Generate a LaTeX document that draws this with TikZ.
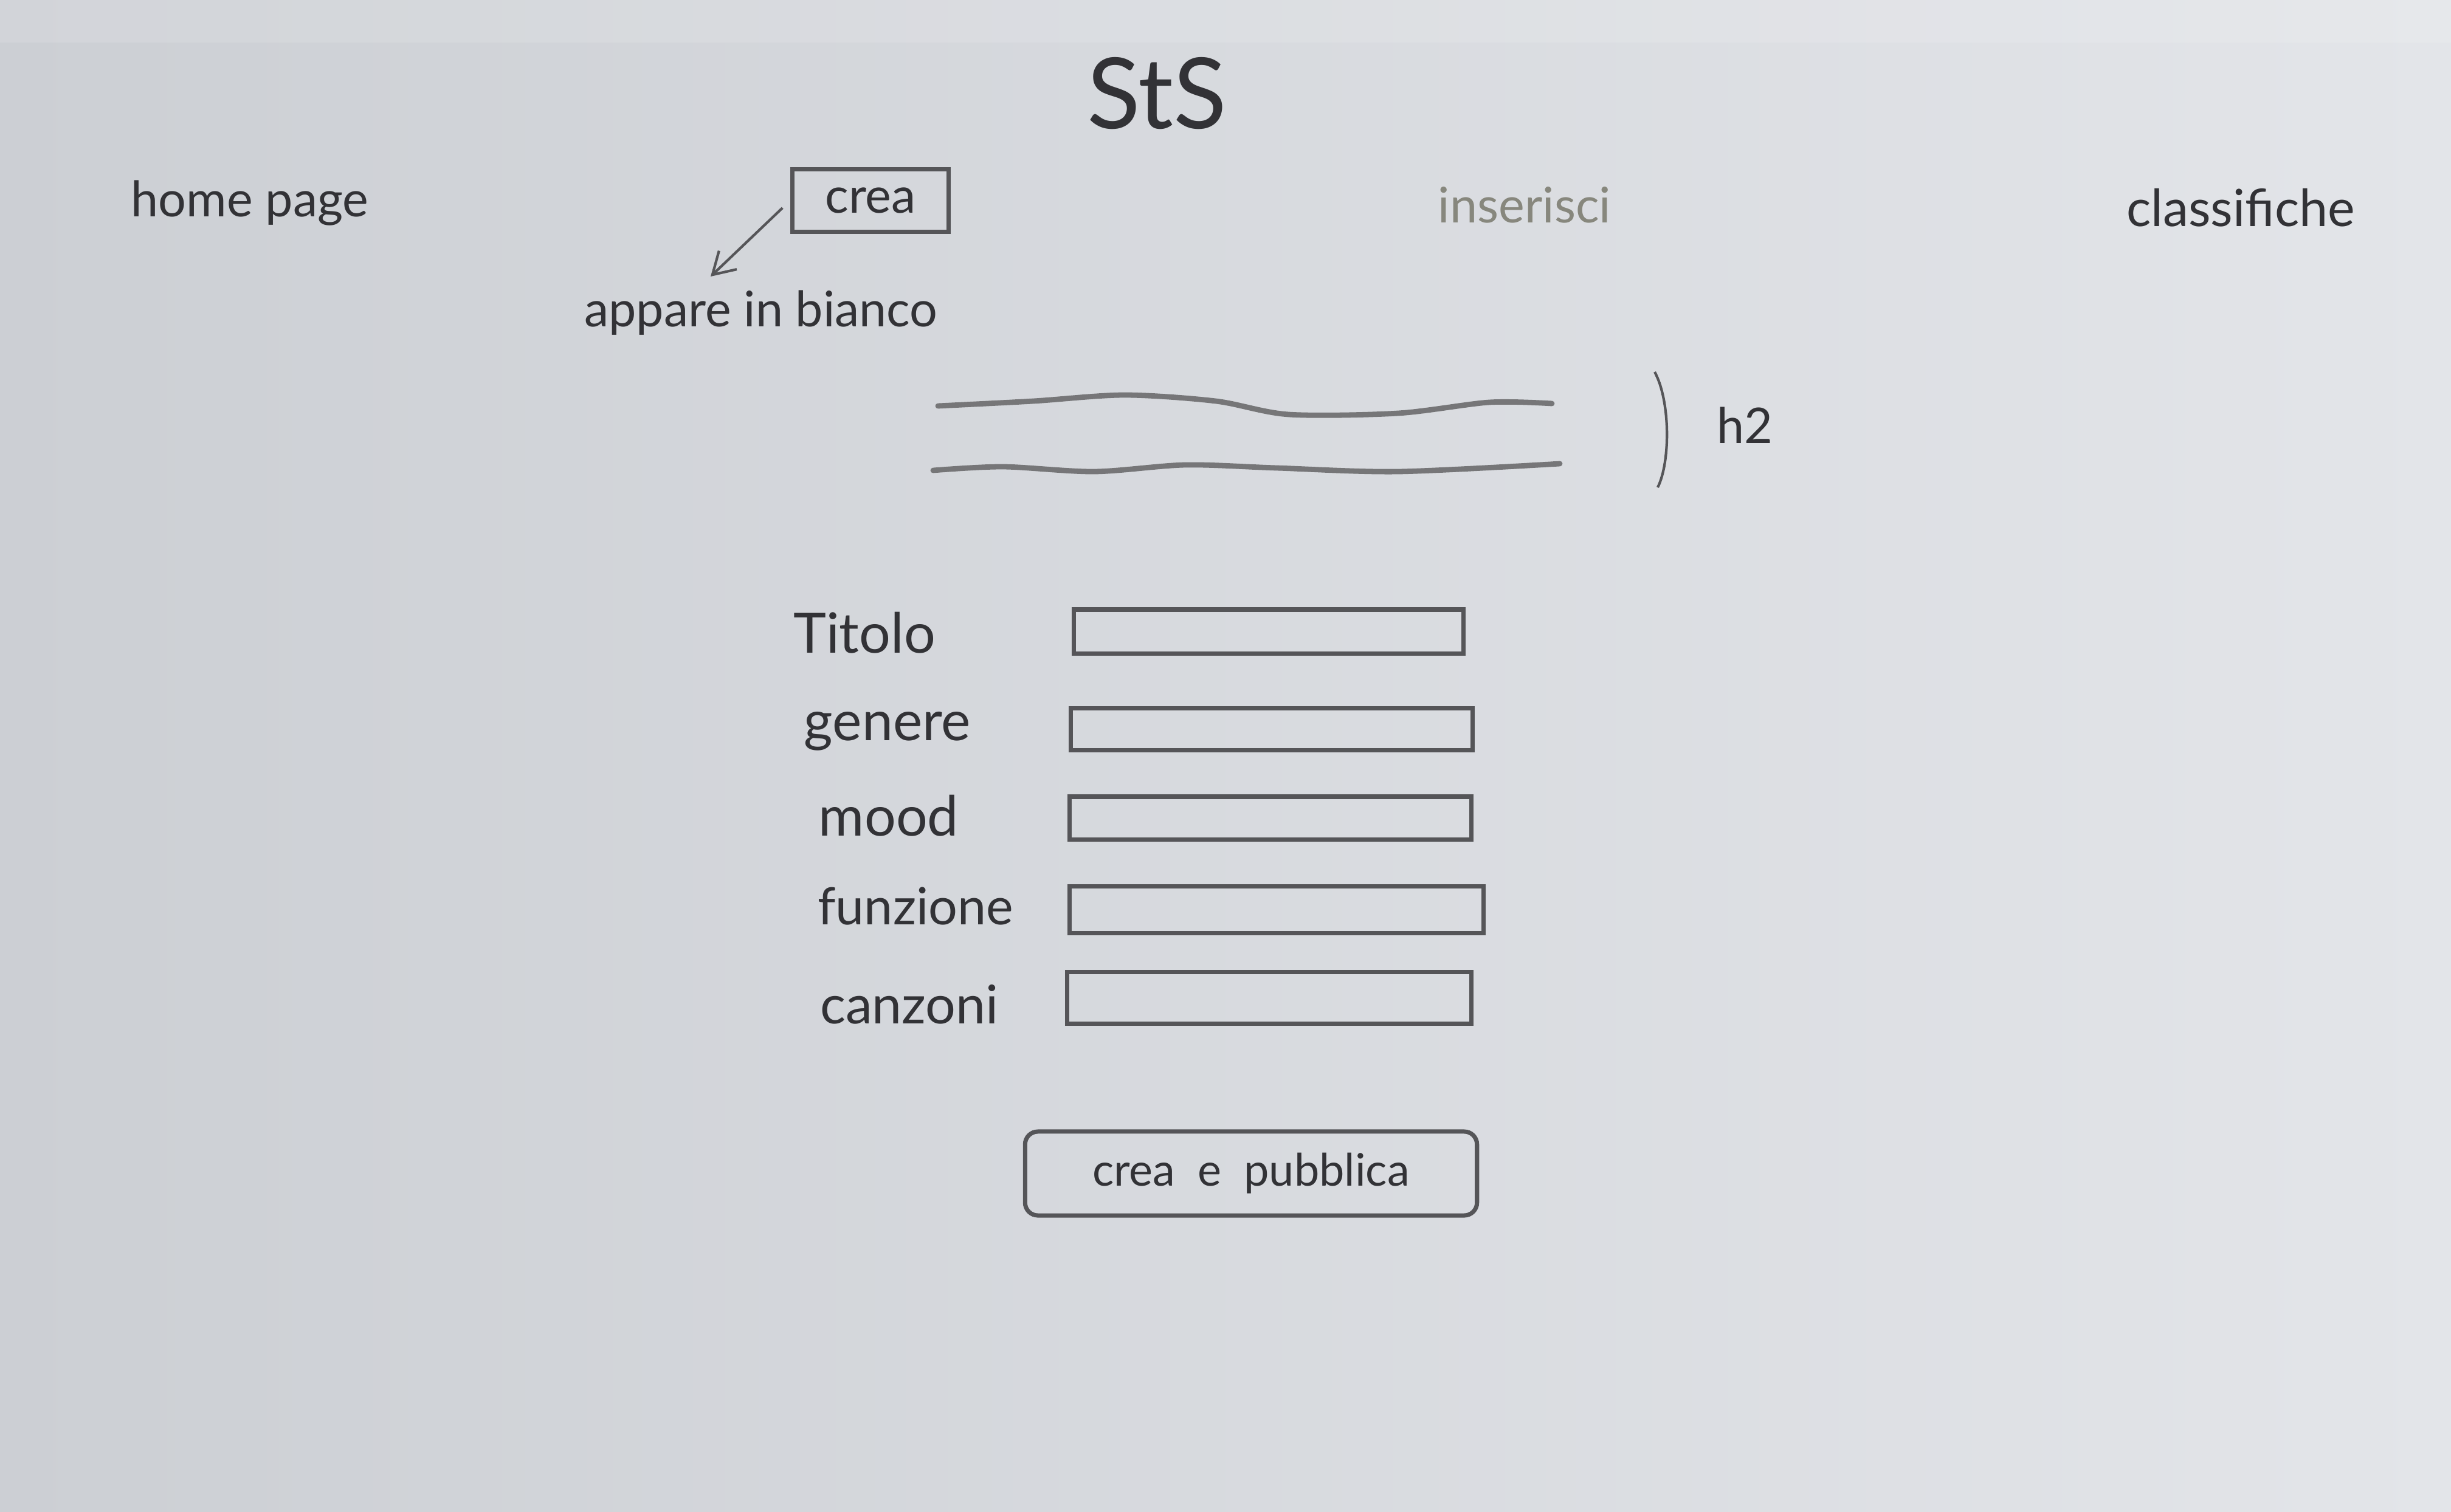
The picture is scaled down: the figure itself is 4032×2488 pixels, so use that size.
\documentclass[tikz,border=0pt]{standalone}
\usepackage{fontspec}
\setmainfont{Lato}
\usetikzlibrary{arrows.meta}
\definecolor{bgL}{RGB}{204,207,212}
\definecolor{bgR}{RGB}{227,229,233}
\definecolor{ink}{RGB}{50,50,54}
\definecolor{pencil}{RGB}{85,85,88}
\definecolor{faint}{RGB}{135,135,125}
\definecolor{hline}{RGB}{118,118,120}
\begin{document}
\begin{tikzpicture}[x=0.01cm,y=-0.01cm,
  hand/.style={text=ink, inner sep=0pt},
  navtext/.style={hand, font=\fontsize{23}{28}\selectfont},
  lbl/.style={hand, font=\fontsize{26}{31}\selectfont},
  field/.style={draw=pencil, line width=2pt, inner sep=0pt},
  arr/.style={draw=pencil, line width=1.2pt, -{Straight Barb[length=10pt,width=12pt]}}
]
\useasboundingbox (0,0) rectangle (4032,2488);
\shade[left color=bgL, right color=bgR] (0,0) rectangle (4032,2488);
\fill[white, opacity=0.12] (0,0) rectangle (4032,70);

% title and navigation
\node[hand, font=\fontsize{46}{52}\selectfont] (title) at (1903,154) {StS};
\node[navtext] (home) at (411,334) {home page};
\node[field, navtext, minimum width=2.57cm, minimum height=1.03cm] (crea) at (1432,330) {crea};
\node[navtext, text=faint] (ins) at (2508,337) {inserisci};
\node[navtext, font=\fontsize{24}{29}\selectfont] (class) at (3686,342) {classifiche};
\node[navtext] (appare) at (1252,515) {appare in bianco};
\coordinate (tip) at (1169,455);
\draw[arr, shorten <=5pt] (crea.west) -- (tip);

% h2 block
\draw[hline, line width=2.5pt, line cap=round] plot[smooth] coordinates
  {(1543,668) (1700,660) (1850,650) (2000,660) (2120,682) (2300,680) (2450,662) (2553,664)};
\draw[hline, line width=2.5pt, line cap=round] plot[smooth] coordinates
  {(1535,774) (1650,768) (1800,776) (1950,765) (2100,770) (2300,776) (2566,763)};
\draw[pencil, line width=1.2pt] (2722,612) .. controls (2748,660) and (2748,760) .. (2727,802);
\node[navtext] (h2) at (2870,700) {h2};

% form
\node[lbl] (lt) at (1422,1041) {Titolo};
\node[field, minimum width=6.40cm, minimum height=0.72cm] (ft) at (2087,1039) {};
\node[lbl] (lg) at (1460,1203) {genere};
\node[field, minimum width=6.61cm, minimum height=0.69cm] (fg) at (2092,1200) {};
\node[lbl] (lm) at (1462,1342) {mood};
\node[field, minimum width=6.61cm, minimum height=0.70cm] (fm) at (2090,1346) {};
\node[lbl, font=\fontsize{24}{29}\selectfont] (lf) at (1506,1491) {funzione};
\node[field, minimum width=6.81cm, minimum height=0.77cm] (ff) at (2100,1497) {};
\node[lbl, font=\fontsize{25}{30}\selectfont] (lc) at (1496,1653) {canzoni};
\node[field, minimum width=6.64cm, minimum height=0.85cm] (fc) at (2088,1642) {};

\node[field, navtext, font=\fontsize{21}{26}\selectfont, rounded corners=6pt, minimum width=7.43cm, minimum height=1.38cm] (btn) at (2058,1931) {crea\enspace e\enspace pubblica};
\end{tikzpicture}
\end{document}
